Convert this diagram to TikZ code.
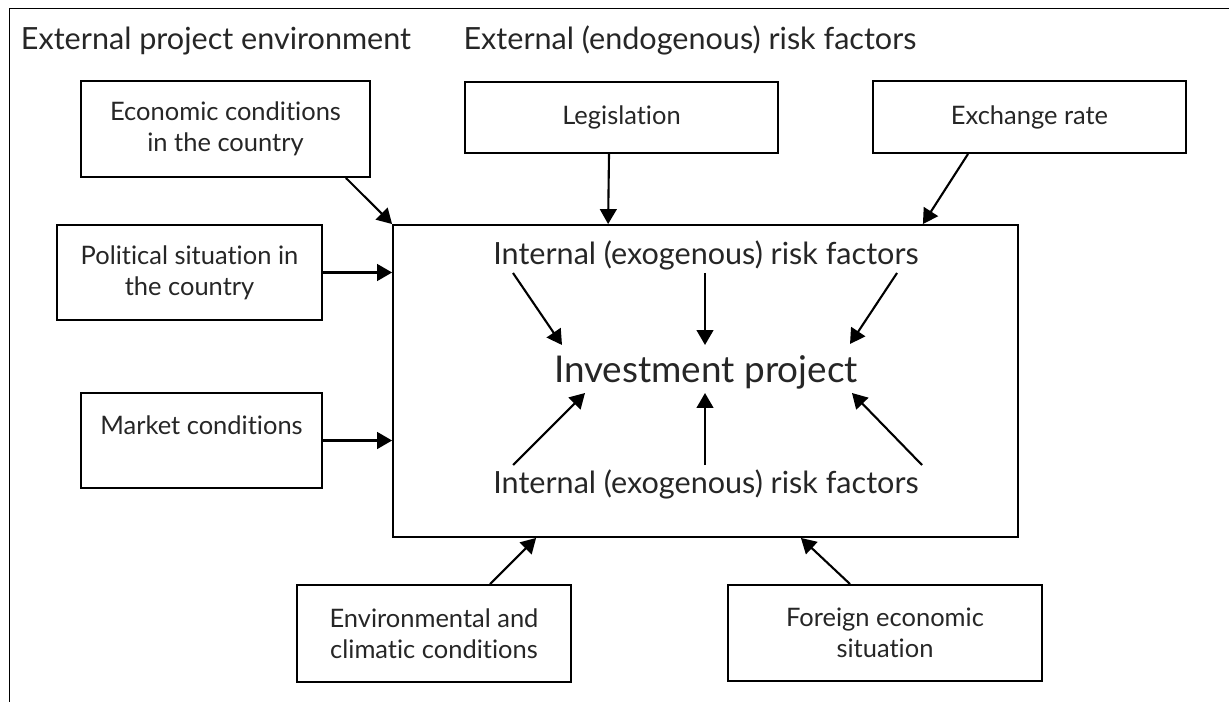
\documentclass[tikz,border=0pt]{standalone}
\usepackage{fontspec}
\setmainfont[Ligatures={NoCommon}]{Lato}
\usetikzlibrary{positioning,calc,arrows.meta}

\begin{document}
\begin{tikzpicture}[
    x=0.02cm, y=-0.02cm,
    every node/.style={text=black!85},
    factor/.style={draw=black, line width=1.1pt, align=center, inner sep=0pt,
                   font=\fontsize{14.5}{17.6}\selectfont},
    core/.style={draw=black, line width=1.1pt, inner sep=0pt},
    heading/.style={anchor=base, inner sep=0pt, font=\fontsize{17.4}{20}\selectfont},
    risk/.style={anchor=base, inner sep=0pt, font=\fontsize{17.4}{20}\selectfont},
    link/.style={-{Triangle[length=8.5pt,width=9.5pt]}, line width=1.2pt},
]
\useasboundingbox (0,0) rectangle (1229,702);

% =====================================================================
% Frame and headings
% =====================================================================
\draw[line width=1.1pt] (9.5,702) -- (9.5,8.5) -- (1229,8.5);

\node[heading] (hEnv) at (216,50) {External project environment};
\node[heading] (hRisk) at (690,50) {External (endogenous) risk factors};

% =====================================================================
% Central project box
% =====================================================================
\node[core, minimum width=12.5cm, minimum height=6.24cm] (proj) at (705.5,381) {};

\node[risk] (riskT) at (706,265) {Internal (exogenous) risk factors};
\node[risk, font=\fontsize{21}{25}\selectfont] (invest) at (706,382) {Investment project};
\node[risk] (riskB) at (706,493) {Internal (exogenous) risk factors};

% internal factors pointing at the project
\draw[link] ($(riskT.base)+(-193,8)$) -- ($(invest.base)+(-144,-37)$);
\draw[link] ($(riskT.base)+(-1,8)$) -- ($(invest.base)+(-1,-37)$);
\draw[link] ($(riskT.base)+(191,8)$) -- ($(invest.base)+(144,-38)$);
\draw[link] ($(riskB.base)+(-193,-28)$) -- ($(invest.base)+(-121,11)$);
\draw[link] ($(riskB.base)+(-1,-28)$) -- ($(invest.base)+(-1,11)$);
\draw[link] ($(riskB.base)+(216,-28)$) -- ($(invest.base)+(146,11)$);

% =====================================================================
% External factor boxes
% =====================================================================
\node[factor, minimum width=5.78cm, minimum height=1.92cm] (econ) at (225.5,129)
    {Economic conditions\\in the country};
\node[factor, minimum width=6.26cm, minimum height=1.42cm] (legis) at (621.5,117.5)
    {Legislation};
\node[factor, minimum width=6.26cm, minimum height=1.44cm] (exch) at (1029.5,117)
    {Exchange rate};
\node[factor, minimum width=5.3cm, minimum height=1.9cm] (polit) at (189.5,272.5)
    {Political situation in\\the country};
\node[factor, minimum width=4.82cm, minimum height=1.9cm] (market) at (201.5,440.5)
    {Market conditions\\ \mbox{}};
\node[factor, minimum width=5.48cm, minimum height=1.94cm] (env) at (434,633.5)
    {Environmental and\\climatic conditions};
\node[factor, minimum width=6.28cm, minimum height=1.92cm] (foreign) at (885,633)
    {Foreign economic\\situation};

% external factors pointing at the project
\draw[link] ($(econ.south east)+(-25,0)$) -- (proj.north west);
\draw[link] ($(legis.south)+(-12.5,0)$) -- ($(proj.north west)+(216,0)$);
\draw[link] ($(exch.south)+(-61.5,0)$) -- ($(proj.north east)+(-96,0)$);
\draw[link] (polit.east) -- (polit.east -| proj.west);
\draw[link] (market.east) -- (market.east -| proj.west);
\draw[link] ($(env.north)+(56,0)$) -- ($(proj.south west)+(144,0)$);
\draw[link] ($(foreign.north)+(-35,0)$) -- ($(proj.south east)+(-218,0)$);

\end{tikzpicture}
\end{document}
